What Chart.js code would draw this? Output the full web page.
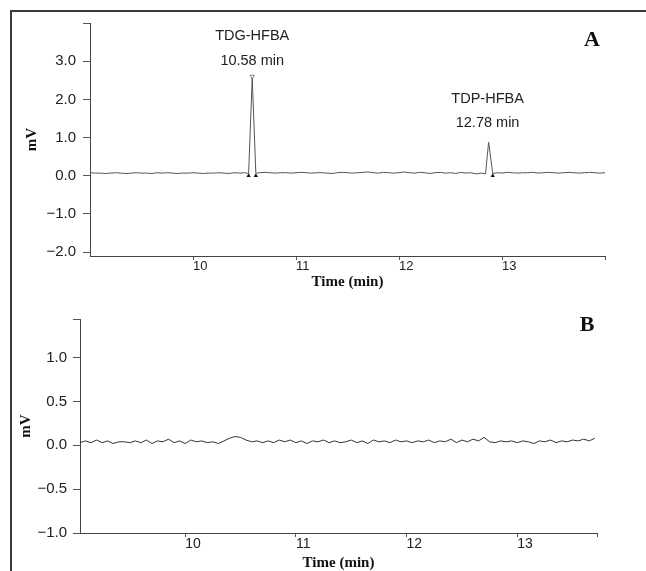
<!DOCTYPE html>
<html>
<head>
<meta charset="utf-8">
<script src="https://cdn.jsdelivr.net/npm/chart.js@4/dist/chart.umd.min.js"></script>
<style>
  html, body { margin: 0; padding: 0; background: #fff; }
  #page { position: relative; width: 646px; height: 571px; overflow: hidden; }
  #frame { position: absolute; left: 10px; top: 10px; width: 640px; height: 570px;
           border-left: 2px solid #3a3a3a; border-top: 2px solid #3a3a3a; }
  canvas { position: absolute; left: 0; }
  #chartA { top: 0; }
  #chartB { top: 290px; }
</style>
</head>
<body>
<div id="page">
  <div id="frame"></div>
  <canvas id="chartA" width="646" height="290"></canvas>
  <canvas id="chartB" width="646" height="281"></canvas>
</div>
<script>
// Panel A: chromatogram of the HFBA derivatives (mV vs min)
const timeA = [
  9.00, 9.05, 9.10, 9.15, 9.20, 9.25, 9.30, 9.35, 9.40, 9.45, 9.50, 9.55, 9.60, 9.65, 9.70, 9.75, 9.80, 9.85, 9.90, 9.95,
  10.00, 10.05, 10.10, 10.15, 10.20, 10.25, 10.30, 10.35, 10.40, 10.45, 10.50,
  10.54, 10.575, 10.61,
  10.65, 10.70, 10.75, 10.80, 10.85, 10.90, 10.95, 11.00, 11.05, 11.10, 11.15, 11.20, 11.25, 11.30, 11.35, 11.40,
  11.45, 11.50, 11.55, 11.60, 11.65, 11.70, 11.75, 11.80, 11.85, 11.90, 11.95, 12.00, 12.05, 12.10, 12.15, 12.20,
  12.25, 12.30, 12.35, 12.40, 12.45, 12.50, 12.55, 12.60, 12.65, 12.70, 12.75, 12.80,
  12.84, 12.87, 12.91,
  12.95, 13.00, 13.05, 13.10, 13.15, 13.20, 13.25, 13.30, 13.35, 13.40, 13.45, 13.50, 13.55, 13.60, 13.65, 13.70,
  13.75, 13.80, 13.85, 13.90, 13.95, 14.00
];
const mvA = [
  0.08, 0.07, 0.07, 0.06, 0.07, 0.08, 0.07, 0.06, 0.07, 0.08, 0.07, 0.07, 0.06, 0.08, 0.07, 0.08, 0.07, 0.06, 0.07, 0.07,
  0.08, 0.07, 0.06, 0.07, 0.07, 0.08, 0.07, 0.06, 0.08, 0.07, 0.08,
  0.06, 2.56, 0.07,
  0.08, 0.09, 0.08, 0.07, 0.08, 0.08, 0.07, 0.08, 0.09, 0.08, 0.07, 0.08, 0.08, 0.07, 0.06, 0.08,
  0.09, 0.08, 0.07, 0.08, 0.09, 0.10, 0.08, 0.07, 0.09, 0.08, 0.07, 0.08, 0.10, 0.08, 0.07, 0.09,
  0.08, 0.06, 0.08, 0.09, 0.07, 0.08, 0.06, 0.09, 0.07, 0.08, 0.05, 0.07,
  0.05, 0.88, 0.06,
  0.08, 0.07, 0.09, 0.08, 0.07, 0.08, 0.08, 0.09, 0.07, 0.08, 0.09, 0.08, 0.07, 0.08, 0.09, 0.08,
  0.07, 0.08, 0.09, 0.08, 0.07, 0.08
];
// integration marks at peak starts/ends, and apex mark of the first peak
const markTime = [10.54, 10.61, 12.91];
const markMv = [0, 0, 0];
const apexTime = [10.575];
const apexMv = [2.6];

const peakTime = [10.575, 12.86];
const peakName = ["TDG-HFBA", "TDP-HFBA"];
const peakRt = ["10.58 min", "12.78 min"];

// Panel B: blank, baseline only
const timeB = [
  9.05, 9.10, 9.15, 9.20, 9.25, 9.30, 9.35, 9.40, 9.45, 9.50, 9.55, 9.60, 9.65, 9.70, 9.75, 9.80, 9.85, 9.90, 9.95,
  10.00, 10.05, 10.10, 10.15, 10.20, 10.25, 10.30, 10.35, 10.40, 10.45, 10.50, 10.55, 10.60, 10.65, 10.70, 10.75,
  10.80, 10.85, 10.90, 10.95, 11.00, 11.05, 11.10, 11.15, 11.20, 11.25, 11.30, 11.35, 11.40, 11.45, 11.50, 11.55,
  11.60, 11.65, 11.70, 11.75, 11.80, 11.85, 11.90, 11.95, 12.00, 12.05, 12.10, 12.15, 12.20, 12.25, 12.30, 12.35,
  12.40, 12.45, 12.50, 12.55, 12.60, 12.65, 12.70, 12.75, 12.80, 12.85, 12.90, 12.95, 13.00, 13.05, 13.10, 13.15,
  13.20, 13.25, 13.30, 13.35, 13.40, 13.45, 13.50, 13.55, 13.60, 13.65, 13.70
];
const mvB = [
  0.03, 0.05, 0.03, 0.06, 0.03, 0.05, 0.02, 0.04, 0.04, 0.03, 0.05, 0.03, 0.06, 0.02, 0.05, 0.04, 0.07, 0.03, 0.05,
  0.02, 0.06, 0.04, 0.05, 0.03, 0.04, 0.02, 0.05, 0.08, 0.10, 0.09, 0.06, 0.04, 0.05, 0.03, 0.05,
  0.03, 0.06, 0.04, 0.06, 0.03, 0.05, 0.02, 0.05, 0.04, 0.06, 0.03, 0.05, 0.03, 0.04, 0.06, 0.03,
  0.05, 0.02, 0.06, 0.04, 0.05, 0.03, 0.06, 0.04, 0.05, 0.03, 0.05, 0.04, 0.06, 0.03, 0.05, 0.04,
  0.07, 0.03, 0.06, 0.04, 0.07, 0.05, 0.09, 0.04, 0.03, 0.05, 0.04, 0.05, 0.03, 0.05, 0.04, 0.02,
  0.05, 0.04, 0.06, 0.03, 0.05, 0.04, 0.06, 0.05, 0.07, 0.05, 0.08
];

const xTicks = [10, 11, 12, 13];
const yTicksA = [-2, -1, 0, 1, 2, 3];
const yTicksB = [-1, -0.5, 0, 0.5, 1];

const sans = "'Liberation Sans', Arial, sans-serif";
const serif = "'Liberation Serif', 'Times New Roman', serif";

function pts(xs, ys) {
  return xs.map((x, i) => ({ x: x, y: ys[i] }));
}

function fmt(list) {
  return function (v) {
    const hit = list.find(t => Math.abs(t - v) < 1e-6);
    if (hit === undefined) return "";
    return hit.toFixed(1).replace("-", "\u2212");
  };
}

// free text: peak names, retention times, panel letter
const panelText = {
  id: "panelText",
  afterDraw(chart, args, opts) {
    const ctx = chart.ctx;
    const xs = chart.scales.x;
    ctx.save();
    ctx.fillStyle = "#222";
    ctx.textAlign = "center";
    ctx.textBaseline = "middle";
    ctx.font = "14.5px " + sans;
    (opts.peaks || []).forEach(p => {
      const px = xs.getPixelForValue(p.t);
      ctx.fillText(p.name, px, p.y1);
      ctx.fillText(p.rt, px, p.y2);
    });
    ctx.fillStyle = "#111";
    ctx.font = "bold 22px " + serif;
    ctx.fillText(opts.letter, opts.lx, opts.ly);
    ctx.restore();
  }
};

function makeChart(id, cfg) {
  return new Chart(document.getElementById(id), {
    type: "line",
    data: { datasets: cfg.datasets },
    options: {
      responsive: false,
      animation: false,
      layout: { autoPadding: false, padding: cfg.padding },
      plugins: {
        legend: { display: false },
        tooltip: { enabled: false },
        panelText: cfg.text
      },
      scales: {
        x: {
          type: "linear",
          min: cfg.xMin,
          max: cfg.xMax,
          afterBuildTicks: s => { s.ticks = xTicks.concat([cfg.xMax]).map(v => ({ value: v })); },
          afterFit: s => { s.height = cfg.xHeight; },
          ticks: {
            autoSkip: false,
            maxRotation: 0,
            align: "start",
            padding: 0,
            color: "#222",
            font: { family: sans, size: cfg.xFont, lineHeight: 1 },
            callback: v => (xTicks.includes(v) ? String(v) : "")
          },
          grid: { drawOnChartArea: false, drawTicks: true, tickLength: 4, color: "#555" },
          border: { display: true, color: "#444", width: 1 },
          title: {
            display: true,
            text: "Time (min)",
            color: "#111",
            padding: { top: 0, bottom: 0 },
            font: { family: serif, size: 15, weight: "bold", lineHeight: 1 }
          }
        },
        y: {
          type: "linear",
          min: cfg.yMin,
          max: cfg.yMax,
          afterBuildTicks: s => { s.ticks = cfg.yTicks.concat([cfg.yMax]).map(v => ({ value: v })); },
          afterFit: s => { s.width = cfg.yWidth; },
          ticks: {
            autoSkip: false,
            padding: cfg.yPad,
            color: "#222",
            font: { family: sans, size: cfg.yFont },
            callback: fmt(cfg.yTicks)
          },
          grid: { drawOnChartArea: false, drawTicks: true, tickLength: 7, color: "#555" },
          border: { display: true, color: "#444", width: 1 },
          title: {
            display: true,
            text: "mV",
            color: "#111",
            padding: { top: cfg.mvPad, bottom: 0 },
            font: { family: serif, size: 15, weight: "bold", lineHeight: 1 }
          }
        }
      }
    },
    plugins: [panelText]
  });
}

makeChart("chartA", {
  padding: { top: 23, right: 41, left: 0, bottom: 0 },
  xMin: 9.0, xMax: 14.0, xHeight: 34, xFont: 13,
  yMin: -2.1, yMax: 4.0, yTicks: yTicksA, yWidth: 90, yPad: 7, yFont: 15, mvPad: 25,
  text: {
    letter: "A", lx: 592, ly: 40,
    peaks: [
      { t: peakTime[0], name: peakName[0], rt: peakRt[0], y1: 35.5, y2: 61 },
      { t: peakTime[1], name: peakName[1], rt: peakRt[1], y1: 99, y2: 122.5 }
    ]
  },
  datasets: [
    {
      data: pts(timeA, mvA),
      borderColor: "#555",
      borderWidth: 1,
      pointRadius: 0,
      tension: 0
    },
    {
      data: pts(markTime, markMv),
      showLine: false,
      pointStyle: "triangle",
      pointRadius: 2.5,
      backgroundColor: "#111",
      borderColor: "#111",
      borderWidth: 0
    },
    {
      data: pts(apexTime, apexMv),
      showLine: false,
      pointStyle: "triangle",
      rotation: 180,
      pointRadius: 2.5,
      backgroundColor: "#fff",
      borderColor: "#666",
      borderWidth: 0.8
    }
  ]
});

makeChart("chartB", {
  padding: { top: 29, right: 49, left: 0, bottom: 0 },
  xMin: 9.05, xMax: 13.72, xHeight: 38, xFont: 14,
  yMin: -1.0, yMax: 1.44, yTicks: yTicksB, yWidth: 80, yPad: 6, yFont: 15, mvPad: 19,
  text: { letter: "B", lx: 587, ly: 35, peaks: [] },
  datasets: [
    {
      data: pts(timeB, mvB),
      borderColor: "#333",
      borderWidth: 1,
      pointRadius: 0,
      tension: 0
    }
  ]
});
</script>
</body>
</html>
